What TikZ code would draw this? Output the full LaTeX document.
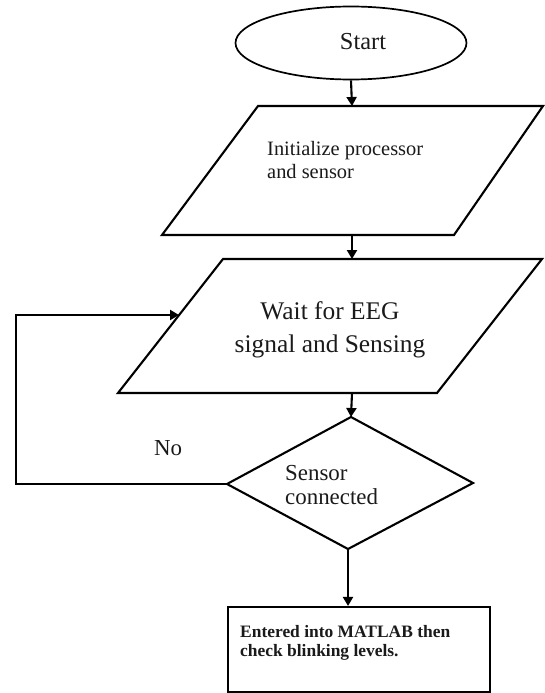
\documentclass[tikz,border=0pt]{standalone}
\usepackage{fontspec}
\setmainfont{Liberation Serif}
\usetikzlibrary{arrows.meta,shapes.geometric}
\definecolor{ink}{HTML}{1A1A1A}
\tikzset{
  outline/.style={draw=black, line width=2.1bp, line join=miter},
  flow/.style={draw=black, line width=2.1bp, -{Triangle[length=9bp,width=10bp]}},
  txt/.style={inner sep=0pt, text=ink},
}
\begin{document}
\begin{tikzpicture}[x=1bp, y=-1bp]
\useasboundingbox (0,0) rectangle (545,693);

% terminal
\node[ellipse, draw=black, line width=1.7bp, minimum width=231bp, minimum height=73bp, inner sep=0pt] (start) at (351,43) {};
\node[txt, font=\fontsize{24.5}{28}\selectfont] (starttxt) at (363,42) {Start};

% first input/output block
\coordinate (p1a) at (258,106);
\coordinate (p1b) at (543,106);
\coordinate (p1c) at (454,235);
\coordinate (p1d) at (162,235);
\coordinate (p1top) at (352,106);
\coordinate (p1bot) at (352,235);
\draw[outline] (p1a) -- (p1b) -- (p1c) -- (p1d) -- cycle;
\node[txt, anchor=west, align=left, font=\fontsize{20.5}{23.5}\selectfont] (init) at (267,160) {Initialize processor\\and sensor};

% second input/output block
\coordinate (p2a) at (223,259);
\coordinate (p2b) at (542,259);
\coordinate (p2c) at (437,393);
\coordinate (p2d) at (118,393);
\coordinate (p2top) at (352,259);
\coordinate (p2bot) at (352,393);
\coordinate (p2in) at (179,315);
\draw[outline] (p2a) -- (p2b) -- (p2c) -- (p2d) -- cycle;
\node[txt, align=center, font=\fontsize{25.5}{33}\selectfont] (wait) at (330,330) {Wait for EEG\\signal and Sensing};

% decision
\coordinate (dtop) at (351,417);
\coordinate (dright) at (473,483);
\coordinate (dbot) at (348,549);
\coordinate (dleft) at (227,484);
\draw[outline] (dtop) -- (dright) -- (dbot) -- (dleft) -- cycle;
\node[txt, anchor=west, align=left, font=\fontsize{23}{24}\selectfont] (sensor) at (285,485) {Sensor\\connected};

% process box
\node[draw=black, line width=2.1bp, minimum width=262bp, minimum height=85bp, inner sep=0pt] (matlab) at (359,649.5) {};
\node[txt, anchor=west, align=left, font=\bfseries\fontsize{17.5}{19.5}\selectfont] (matlabtxt) at (240,643) {Entered into MATLAB then\\check blinking levels.};

% loop label
\node[txt, font=\fontsize{23}{26}\selectfont] (no) at (168,448) {No};

% connectors
\draw[flow] (start.south) -- (p1top);
\draw[flow] (p1bot) -- (p2top);
\draw[flow] (p2bot) -- (dtop);
\draw[flow] (dbot) -- (matlab.north -| dbot);
\draw[flow] (dleft) -- (16,484) -- (16,315) -- (p2in);
\end{tikzpicture}
\end{document}
